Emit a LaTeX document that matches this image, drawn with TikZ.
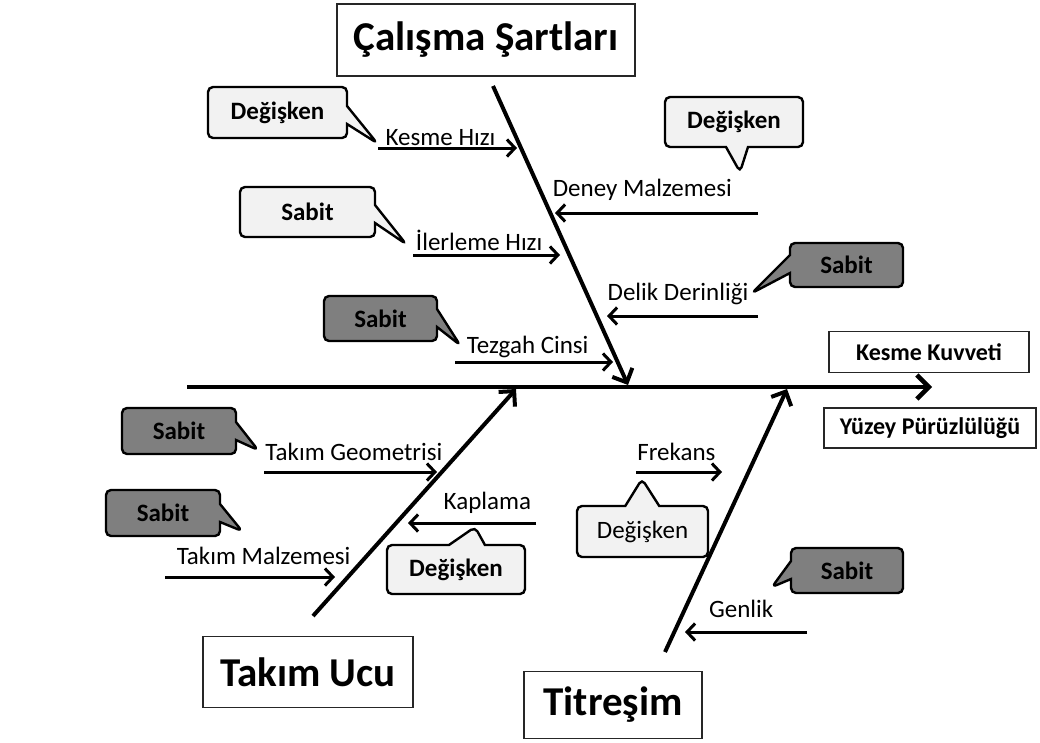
\documentclass[tikz,border=0pt]{standalone}
\usepackage{fontspec}
\setmainfont{Carlito}
\usetikzlibrary{arrows.meta,shapes.callouts}
\definecolor{notelight}{HTML}{F2F2F2}
\definecolor{notedark}{HTML}{7F7F7F}
\tikzset{
  headbox/.style={draw=black!85,line width=1.2pt,fill=white,inner sep=0pt,font=\fontsize{41}{48}\selectfont\bfseries},
  effectbox/.style={draw=black!85,line width=1.2pt,fill=white,inner sep=0pt,font=\fontsize{24}{28}\selectfont\bfseries},
  note/.style={rectangle callout,draw=black,line width=2.4pt,rounded corners=5pt,inner sep=0pt,callout pointer width=18pt,font=\fontsize{25}{29}\selectfont\bfseries},
  varnote/.style={note,fill=notelight},
  fixnote/.style={note,fill=notedark},
  bone/.style={line width=4pt,-{Straight Barb[length=11pt,width=22pt,line width=4pt]}},
  branch/.style={line width=3pt,-{Straight Barb[length=8pt,width=17pt,line width=3pt]}},
  lbl/.style={inner sep=1pt,font=\fontsize{25}{29}\selectfont}
}
\begin{document}
\begin{tikzpicture}[x=1pt,y=-1pt]
\useasboundingbox (0,0) rectangle (1040,742);

\coordinate (spine-s) at (187,387);
\coordinate (spine-e) at (932,387);
\coordinate (cs-s) at (493,86);
\coordinate (cs-e) at (628,385);
\coordinate (tu-s) at (313,616);
\coordinate (tu-e) at (516,389);
\coordinate (ti-s) at (665,652);
\coordinate (ti-e) at (787,389);

\coordinate (kh-s) at (378,148);   \coordinate (kh-e) at (517,148);
\coordinate (ih-s) at (413,255);   \coordinate (ih-e) at (560,255);
\coordinate (tc-s) at (455,362);   \coordinate (tc-e) at (613,362);
\coordinate (dm-s) at (758,213);   \coordinate (dm-e) at (555,213);
\coordinate (dd-s) at (758,316);   \coordinate (dd-e) at (607,316);
\coordinate (tg-s) at (264,472);   \coordinate (tg-e) at (437,472);
\coordinate (tm-s) at (165,577);   \coordinate (tm-e) at (335,577);
\coordinate (kp-s) at (536,523);   \coordinate (kp-e) at (408,523);
\coordinate (fr-s) at (636,472);   \coordinate (fr-e) at (722,472);
\coordinate (gn-s) at (807,632);   \coordinate (gn-e) at (685,632);

\coordinate (kh-tip) at (377,143);
\coordinate (ih-tip) at (406,244);
\coordinate (tc-tip) at (460,345);
\coordinate (dm-tip) at (740,172);
\coordinate (dd-tip) at (752,293);
\coordinate (tg-tip) at (258,450);
\coordinate (tm-tip) at (242,531);
\coordinate (kp-tip) at (475,527);
\coordinate (fr-tip) at (642,479);
\coordinate (gn-tip) at (772,587);

\node[headbox,minimum width=298pt,minimum height=72pt] (calisma) at (486,40) {Çalışma Şartları};
\node[headbox,minimum width=210pt,minimum height=71pt] (takim) at (308,672) {Takım Ucu};
\node[headbox,minimum width=178pt,minimum height=67pt] (titresim) at (613,705) {Titreşim};

\node[effectbox,minimum width=200pt,minimum height=41pt] (kuvvet) at (929,352) {Kesme Kuvveti};
\node[effectbox,minimum width=212pt,minimum height=40pt] (yuzey) at (930,428) {Yüzey Pürüzlülüğü};

\draw[line width=4.5pt,-{Straight Barb[length=12pt,width=24pt,line width=4.5pt]}] (spine-s) -- (spine-e);
\draw[bone] (cs-s) -- (cs-e);
\draw[bone] (tu-s) -- (tu-e);
\draw[bone] (ti-s) -- (ti-e);

\draw[branch] (kh-s) -- (kh-e) node[lbl,pos=.45,above=0pt] (kh) {Kesme Hızı};
\draw[branch] (ih-s) -- (ih-e) node[lbl,pos=.45,above=2pt] (ih) {İlerleme Hızı};
\draw[branch] (tc-s) -- (tc-e) node[lbl,pos=.46,above=2pt] (tc) {Tezgah Cinsi};
\draw[branch] (dm-s) -- (dm-e) node[lbl,pos=.57,above=10pt] (dm) {Deney Malzemesi};
\draw[branch] (dd-s) -- (dd-e) node[lbl,pos=.53,above=9pt] (dd) {Delik Derinliği};
\draw[branch] (tg-s) -- (tg-e) node[lbl,pos=.52,above=9pt] (tg) {Takım Geometrisi};
\draw[branch] (tm-s) -- (tm-e) node[lbl,pos=.58,above=10pt] (tm) {Takım Malzemesi};
\draw[branch] (kp-s) -- (kp-e) node[lbl,pos=.38,above=7pt] (kp) {Kaplama};
\draw[branch] (fr-s) -- (fr-e) node[lbl,pos=.47,above=9pt] (fr) {Frekans};
\draw[branch] (gn-s) -- (gn-e) node[lbl,pos=.54,above=12pt] (gn) {Genlik};

\node[varnote,minimum width=139pt,minimum height=51pt,callout absolute pointer={(kh-tip)}] (kh-note) at (277.5,112.5) {Değişken};
\node[varnote,minimum width=135pt,minimum height=50pt,callout absolute pointer={(ih-tip)}] (ih-note) at (307.5,212) {Sabit};
\node[fixnote,minimum width=113pt,minimum height=45pt,callout absolute pointer={(tc-tip)}] (tc-note) at (380.5,318.5) {Sabit};
\node[varnote,minimum width=138pt,minimum height=50pt,callout pointer width=22pt,callout absolute pointer={(dm-tip)}] (dm-note) at (734,122) {Değişken};
\node[fixnote,minimum width=113pt,minimum height=44pt,callout absolute pointer={(dd-tip)}] (dd-note) at (846.5,265) {Sabit};
\node[fixnote,minimum width=114pt,minimum height=46pt,callout absolute pointer={(tg-tip)}] (tg-note) at (179,431) {Sabit};
\node[fixnote,minimum width=114pt,minimum height=46pt,callout absolute pointer={(tm-tip)}] (tm-note) at (163,513) {Sabit};
\node[varnote,minimum width=138pt,minimum height=49pt,callout pointer width=36pt,callout absolute pointer={(kp-tip)}] (kp-note) at (456,569.5) {Değişken};
\node[varnote,minimum width=131pt,minimum height=51pt,callout pointer width=34pt,callout absolute pointer={(fr-tip)},font=\fontsize{25}{29}\selectfont] (fr-note) at (642.5,531.5) {Değişken};
\node[fixnote,minimum width=112pt,minimum height=45pt,callout absolute pointer={(gn-tip)}] (gn-note) at (847,570.5) {Sabit};
\end{tikzpicture}
\end{document}
